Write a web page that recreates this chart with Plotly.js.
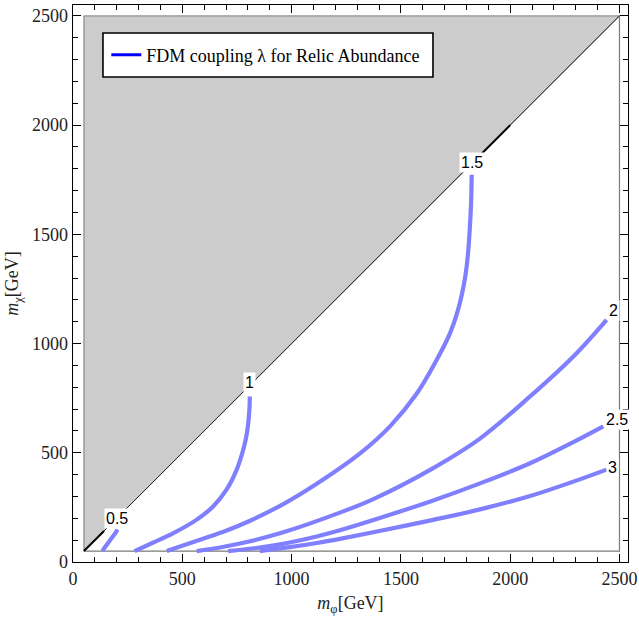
<!DOCTYPE html>
<html>
<head>
<meta charset="utf-8">
<script src="https://cdn.plot.ly/plotly-3.0.1.min.js"></script>
<style>
  html, body { margin: 0; padding: 0; background: #ffffff; }
  #chart { width: 639px; height: 619px; }
</style>
</head>
<body>
<div id="chart"></div>
<script>
// ---- Data (GeV) ----
// Excluded region (m_chi > m_phi), shaded grey
const excludedX = [50, 50, 2500, 50];
const excludedY = [50, 2500, 2500, 50];
// Allowed region outline
const allowedX = [50, 2500, 2500];
const allowedY = [50, 50, 2500];
// Diagonal m_chi = m_phi
const diagX = [50, 2500];
const diagY = [50, 2500];
// Dark segments of the boundary near the 0.5 and 1.5 contours
const edgeSegAX = [50, 142];
const edgeSegAY = [50, 142];
const edgeSegBX = [1860, 2000];
const edgeSegBY = [1860, 2000];

// Contours of the FDM coupling lambda
const lambdaValues = ["0.5", "1", "1.5", "2", "2.5", "3"];
const c05X = [134, 150, 166, 183, 196, 203];
const c05Y = [50, 73, 95, 118, 136, 149];
const c1X  = [282, 365, 459, 566, 642, 703, 749, 772, 790, 801, 807, 809];
const c1Y  = [50, 88, 132, 194, 255, 332, 423, 490, 560, 630, 700, 758];
const c15X = [429, 581, 700, 810, 962, 1115, 1313, 1450, 1572, 1664, 1725, 1755, 1778, 1795, 1806, 1815, 1821, 1824];
const c15Y = [50, 102, 143, 189, 265, 358, 497, 621, 770, 926, 1048, 1132, 1220, 1310, 1400, 1520, 1640, 1773];
const c2X  = [566, 690, 810, 962, 1221, 1374, 1648, 1862, 2091, 2289, 2441];
const c2Y  = [50, 70, 95, 136, 226, 288, 430, 565, 758, 941, 1109];
const c25X = [710, 830, 947, 1115, 1221, 1374, 1648, 1862, 2091, 2289, 2426];
const c25Y = [50, 63, 81, 117, 145, 192, 282, 360, 452, 549, 621];
const c3X  = [855, 1000, 1115, 1221, 1374, 1648, 1862, 2091, 2289, 2441];
const c3Y  = [50, 69, 87, 106, 136, 193, 241, 302, 368, 423];

const curvesX = [c05X, c1X, c15X, c2X, c25X, c3X];
const curvesY = [c05Y, c1Y, c15Y, c2Y, c25Y, c3Y];

const tickVals = [0, 500, 1000, 1500, 2000, 2500];
const tickText = ["0", "500", "1000", "1500", "2000", "2500"];
const legendName = "FDM coupling λ for Relic Abundance";

// ---- Traces ----
const traces = [];
traces.push({
  x: excludedX, y: excludedY, type: "scatter", mode: "lines",
  fill: "toself", fillcolor: "#cccccc",
  line: { color: "#7a7a7a", width: 1 },
  hoverinfo: "skip", showlegend: false
});
traces.push({
  x: allowedX, y: allowedY, type: "scatter", mode: "lines",
  line: { color: "#7a7a7a", width: 1.2 },
  hoverinfo: "skip", showlegend: false
});
traces.push({
  x: diagX, y: diagY, type: "scatter", mode: "lines",
  line: { color: "#222222", width: 1 },
  hoverinfo: "skip", showlegend: false
});
[[edgeSegAX, edgeSegAY], [edgeSegBX, edgeSegBY]].forEach(function (s) {
  traces.push({
    x: s[0], y: s[1], type: "scatter", mode: "lines",
    line: { color: "#000000", width: 2 },
    hoverinfo: "skip", showlegend: false
  });
});
for (let i = 0; i < curvesX.length; i++) {
  traces.push({
    x: curvesX[i], y: curvesY[i], type: "scatter", mode: "lines",
    line: { color: "rgb(128,128,255)", width: 4.2, shape: "spline", smoothing: 1 },
    name: "λ = " + lambdaValues[i], showlegend: false
  });
}
// legend entry
traces.push({
  x: [null], y: [null], type: "scatter", mode: "lines",
  line: { color: "#0000ff", width: 3 },
  name: legendName, showlegend: true
});

// ---- Contour labels at curve ends ----
const labelShift = [[0, 11], [0, 14], [0, 12], [7, 9], [14, 7], [6, 2]];
const annotations = lambdaValues.map(function (v, i) {
  const xs = curvesX[i], ys = curvesY[i];
  return {
    x: xs[xs.length - 1], y: ys[ys.length - 1], xref: "x", yref: "y",
    text: v, showarrow: false, xanchor: "center", yanchor: "middle",
    xshift: labelShift[i][0], yshift: labelShift[i][1],
    bgcolor: "#ffffff", borderpad: 1,
    font: { family: "Liberation Sans, Arial, sans-serif", size: 16, color: "#000" }
  };
});

const serif = "Liberation Serif, Times New Roman, serif";
const axisCommon = {
  showgrid: false, zeroline: false,
  showline: true, linecolor: "#000", linewidth: 1.3, mirror: "ticks",
  ticks: "inside", ticklen: 8, tickwidth: 1, tickcolor: "#000",
  tickmode: "array", tickvals: tickVals, ticktext: tickText,
  tickfont: { family: serif, size: 18, color: "#222" },
  minor: { tick0: 0, dtick: 100, ticks: "inside", ticklen: 5, tickwidth: 1, tickcolor: "#000", showgrid: false }
};

const layout = {
  width: 639, height: 619,
  margin: { l: 73, r: 11, t: 5, b: 57 },
  paper_bgcolor: "#ffffff", plot_bgcolor: "#ffffff",
  xaxis: Object.assign({}, axisCommon, {
    range: [0, 2539],
    title: { text: "<i>m</i><sub>φ</sub>[GeV]", font: { family: serif, size: 18, color: "#222" }, standoff: 8 }
  }),
  yaxis: Object.assign({}, axisCommon, {
    range: [0, 2550],
    title: { text: "<i>m</i><sub>χ</sub>[GeV]", font: { family: serif, size: 18, color: "#222" }, standoff: 8 }
  }),
  showlegend: true,
  legend: {
    x: 0.06, y: 0.910, xanchor: "left", yanchor: "middle",
    bgcolor: "rgba(255,255,255,0)", borderwidth: 0,
    font: { family: serif, size: 18, color: "#000" }
  },
  shapes: [{
    type: "rect", xref: "paper", yref: "paper",
    x0: 0.054, x1: 0.6486, y0: 0.8707, y1: 0.9497,
    line: { color: "#000", width: 1.6 }, fillcolor: "#ffffff", layer: "above"
  }],
  annotations: annotations
};

Plotly.newPlot("chart", traces, layout, { displayModeBar: false, staticPlot: true });
</script>
</body>
</html>
